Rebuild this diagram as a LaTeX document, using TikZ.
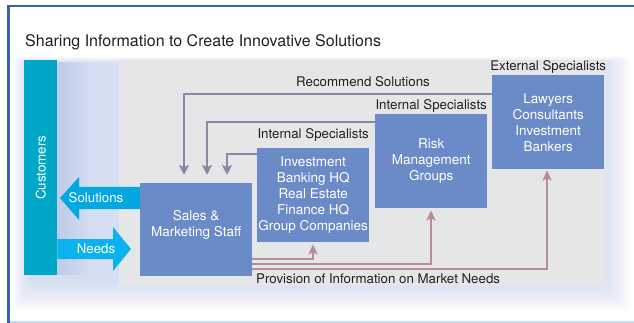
\documentclass[tikz,border=0pt]{standalone}
\usepackage{fontspec}
\setmainfont{TeX Gyre Heros}
\usepackage{xcolor}
\usetikzlibrary{arrows.meta, calc}

\definecolor{ink}{HTML}{231F20}
\definecolor{frameblue}{HTML}{3564B0}
\definecolor{panelgrey}{HTML}{E5E6E8}
\definecolor{boxblue}{HTML}{6A8BC7}
\definecolor{custteal}{HTML}{00A7C7}
\definecolor{solcyan}{HTML}{04A8E0}
\definecolor{needcyan}{HTML}{0AB2EE}
\definecolor{recgrey}{HTML}{8C89A6}
\definecolor{provpink}{HTML}{B68C9D}
\definecolor{hazeblue}{HTML}{9DB3E6}

\tikzset{
	box/.style={fill=boxblue, text=white, align=center, inner sep=0pt,
		anchor=north west, font=\fontsize{13.5}{16}\selectfont},
	spec/.style={text=ink, inner sep=1pt, font=\fontsize{13.3}{16}\selectfont},
	flowtext/.style={text=white, inner sep=0pt, font=\fontsize{13.3}{16}\selectfont},
	recline/.style={draw=recgrey, line width=2.4pt,
		-{Stealth[length=10pt, width=10pt, inset=2pt]}},
	provline/.style={draw=provpink, line width=2pt,
		-{Stealth[length=10pt, width=9pt, inset=2pt]}},
}

\begin{document}
\begin{tikzpicture}[x=1pt, y=-1pt]
	\useasboundingbox (0,0) rectangle (634,323);
	\fill[white] (0,0) rectangle (634,323);
	
	% soft glow behind the panel
	\foreach \i in {1,...,14}
		\fill[hazeblue, opacity=0.03, rounded corners=6pt]
			({30-1.2*\i},{64-0.5*\i}) rectangle ({600+2.2*\i},{280+2.2*\i});
	\foreach \i in {1,...,8}
		\fill[hazeblue, opacity=0.05] (57,62) rectangle ({57+4*\i},275);
	
	% frame
	\draw[frameblue!25, line width=1.5pt] (9,322) -- (634,322);
	\draw[frameblue, line width=2.5pt] (8.5,323) -- (8.5,6) -- (634,6);
	
	\node[anchor=base west, text=ink, inner sep=0pt, font=\fontsize{16}{19}\selectfont]
		(title) at (25,47) {Sharing Information to Create Innovative Solutions};
	
	% panel and customers bar
	\fill[panelgrey] (119,60) rectangle (606,286);
	\node[fill=custteal, minimum width=33pt, minimum height=215pt, inner sep=0pt,
		anchor=north west] (cust) at (24,60) {};
	\node[flowtext, rotate=90] (custtext) at (cust.center) {Customers};
	
	% boxes
	\node[box, minimum width=112pt, minimum height=93pt,
		label={[flowtext, font=\fontsize{13.5}{16}\selectfont, yshift=5pt, align=center]center:Sales \&\\Marketing Staff}]
		(sales) at (140,183) {};
	\node[box, minimum width=112pt, minimum height=94pt,
		label={[spec, yshift=5pt]above:Internal Specialists}]
		(invest) at (257,148) {Investment\\Banking HQ\\Real Estate\\Finance HQ\\Group Companies};
	\node[box, minimum width=112pt, minimum height=94pt,
		label={[spec]above:Internal Specialists}]
		(risk) at (375,114) {Risk\\Management\\Groups};
	\node[box, minimum width=112pt, minimum height=94pt,
		label={[spec]above:External Specialists}]
		(ext) at (492,75) {Lawyers\\Consultants\\Investment\\Bankers};
	
	% solutions and needs
	\fill[solcyan] (sales.west |- 0,187) -- (79,187) -- (79,177) -- (60,198)
		-- (79,220) -- (79,209) -- (sales.west |- 0,209) -- cycle;
	\node[flowtext] (soltext) at (96,198) {Solutions};
	\fill[needcyan] (cust.east |- 0,239) -- (113,239) -- (113,227) -- (131,249)
		-- (113,271) -- (113,259) -- (cust.east |- 0,259) -- cycle;
	\node[flowtext] (needtext) at (96,249) {Needs};
	
	% recommendations back to sales
	\coordinate (r1) at (184,94);
	\coordinate (r2) at (207,122);
	\coordinate (r3) at (227,154);
	\draw[recline, shorten >=8pt] (ext.west |- r1) -| (sales.north -| r1);
	\draw[recline, shorten >=8pt] (risk.west |- r2) -| (sales.north -| r2);
	\draw[recline, shorten >=8pt] (invest.west |- r3) -| (sales.north -| r3);
	\node[spec, anchor=base] (rectext) at (363,87) {Recommend Solutions};
	
	% market needs out to the specialists
	\coordinate (p1) at (313,259);
	\coordinate (p2) at (431,264);
	\coordinate (p3) at (547,269);
	\draw[provline, shorten >=2pt] (sales.east |- p1) -| (invest.south -| p1);
	\draw[provline, shorten >=2pt] (sales.east |- p2) -| (risk.south -| p2);
	\draw[provline, shorten >=1pt] (sales.east |- p3) -| (ext.south -| p3);
	\node[spec, anchor=base west, inner sep=0pt] (provtext) at (256,283)
		{Provision of Information on Market Needs};
\end{tikzpicture}
\end{document}
